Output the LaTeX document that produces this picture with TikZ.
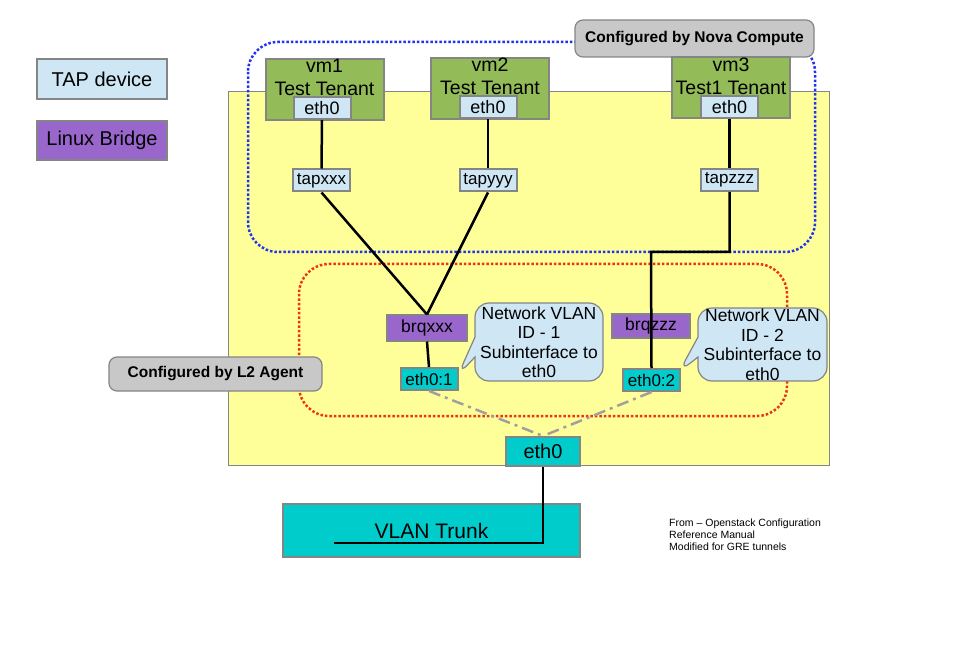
\documentclass[tikz,border=0pt]{standalone}
\usepackage{fontspec}
\setmainfont{Liberation Sans}
\usetikzlibrary{shapes.callouts}

\definecolor{tapblue}{HTML}{CFE6F5}
\definecolor{bridgepurple}{HTML}{9966CC}
\definecolor{vmgreen}{HTML}{93BB58}
\definecolor{ethcyan}{HTML}{00CCCC}
\definecolor{hostyellow}{HTML}{FFFF99}
\definecolor{taggray}{HTML}{C8C8C8}
\definecolor{boxgray}{HTML}{858585}
\definecolor{novablue}{HTML}{2233EE}
\definecolor{agentred}{HTML}{EE3318}
\definecolor{vlangray}{HTML}{A0A0A0}

\tikzset{
  box/.style={draw=boxgray, line width=2pt, inner sep=0pt, align=center},
  tap/.style={box, fill=tapblue, minimum width=57pt, minimum height=22pt, font=\fontsize{17}{20}\selectfont},
  bridge/.style={box, fill=bridgepurple, minimum height=24pt, font=\fontsize{17.5}{20}\selectfont},
  eth/.style={box, fill=ethcyan, minimum width=57pt, minimum height=22pt, font=\fontsize{17}{20}\selectfont},
  vm/.style={box, fill=vmgreen, minimum width=118pt, minimum height=61pt},
  vmtext/.style={anchor=north, inner sep=0pt, align=center, font=\fontsize{19.5}{23}\selectfont},
  tag/.style={box, line width=1.2pt, fill=taggray, rounded corners=8pt, font=\bfseries\fontsize{15.5}{18}\selectfont},
  note/.style={rectangle callout, box, line width=1.2pt, fill=tapblue, rounded corners=14pt, callout pointer width=20pt, font=\fontsize{17.5}{19.5}\selectfont},
  wire/.style={line width=2.5pt, black},
  vlanline/.style={line width=2.5pt, vlangray, dash pattern=on 12pt off 5pt on 3pt off 5pt},
  novaline/.style={draw=novablue, line width=2.5pt, dash pattern=on 2.5pt off 2pt, rounded corners=30pt},
  agentline/.style={draw=agentred, line width=2.5pt, dash pattern=on 2.5pt off 2pt, rounded corners=30pt},
}

\begin{document}
\begin{tikzpicture}[x=1pt,y=-1pt]
\useasboundingbox (0,0) rectangle (978,663);

% host and the two regions
\draw[draw=boxgray, fill=hostyellow] (228,91) rectangle (829,465);
\draw[novaline] (248,42) rectangle (815,252);
\draw[agentline] (299,264) rectangle (787,416);

% legend
\node[tap, minimum width=130pt, minimum height=40pt, font=\fontsize{20}{24}\selectfont] (tapkey) at (102,79) {TAP device};
\node[bridge, minimum width=130pt, minimum height=39pt, font=\fontsize{20}{24}\selectfont] (bridgekey) at (102,140.5) {Linux Bridge};

\node[tag, minimum width=239pt, minimum height=37pt] (novatag) at (694.5,38.5) {Configured by Nova Compute};
\node[tag, minimum width=213pt, minimum height=34pt] (agenttag) at (215.5,374) {Configured by L2 Agent};

% vms
\node[vm] (vm1) at (324.5,89.5) {};
\node[vmtext] (vm1label) at ([yshift=-1pt]vm1.north) {vm1\\Test Tenant};
\node[tap, font=\fontsize{18}{20}\selectfont] (vm1eth) at (322,108) {eth0};
\node[vm] (vm2) at (490,88.5) {};
\node[vmtext] (vm2label) at ([yshift=-1pt]vm2.north) {vm2\\Test Tenant};
\node[tap, font=\fontsize{18}{20}\selectfont] (vm2eth) at (488,107.5) {eth0};
\node[vm] (vm3) at (731,88) {};
\node[vmtext] (vm3label) at ([yshift=-1pt]vm3.north) {vm3\\Test1 Tenant};
\node[tap, font=\fontsize{18}{20}\selectfont] (vm3eth) at (729.5,107) {eth0};

% tap devices
\node[tap] (tapxxx) at (321.5,180.5) {tapxxx};
\node[tap] (tapyyy) at (488,180.5) {tapyyy};
\node[tap] (tapzzz) at (729.5,180) {tapzzz};

% bridges and subinterfaces
\node[bridge, minimum width=80pt, minimum height=25pt] (brqxxx) at (427,328) {brqxxx};
\node[bridge, minimum width=78pt] (brqzzz) at (651,326) {brqzzz};
\node[eth] (eth01) at (429,379) {eth0:1};
\node[eth] (eth02) at (651.5,380) {eth0:2};
\node[eth, minimum width=74pt, minimum height=29pt, font=\fontsize{20}{24}\selectfont] (eth0) at (543,451.5) {eth0};

\node[note, minimum width=128pt, minimum height=78pt, callout absolute pointer={(458,375)}] (vlan1) at (539,342) {Network VLAN\\ID - 1\\Subinterface to\\eth0};
\node[note, minimum width=129pt, minimum height=73pt, callout absolute pointer={(679,372)}] (vlan2) at (762.5,344.5) {Network VLAN\\ID - 2\\Subinterface to\\eth0};

\node[eth, minimum width=297pt, minimum height=53pt, font=\fontsize{21}{24}\selectfont] (trunk) at (431.5,530.5) {VLAN Trunk};

\node[anchor=north west, align=left, inner sep=0pt, font=\fontsize{10.5}{12}\selectfont] (source) at (669,519) {From -- Openstack Configuration\\Reference Manual\\Modified for GRE tunnels};

% wiring
\coordinate (zbend) at (651,252);
\coordinate (trunkend) at (334,543);
\draw[wire] (vm1eth.south) -- (tapxxx.north);
\draw[wire] (vm2eth.south) -- (tapyyy.north);
\draw[wire] (vm3eth.south) -- (tapzzz.north);
\draw[wire] (tapxxx.south) -- (brqxxx.north);
\draw[wire] (tapyyy.south) -- (brqxxx.north);
\draw[wire] (tapzzz.south) |- (zbend) -- (eth02.north);
\draw[wire] (brqxxx.south) -- (eth01.north);
\draw[wire] (eth0.south) |- (trunkend);
\draw[vlanline] (eth01.south) -- (eth0.north);
\draw[vlanline] (eth02.south) -- (eth0.north);
\end{tikzpicture}
\end{document}
